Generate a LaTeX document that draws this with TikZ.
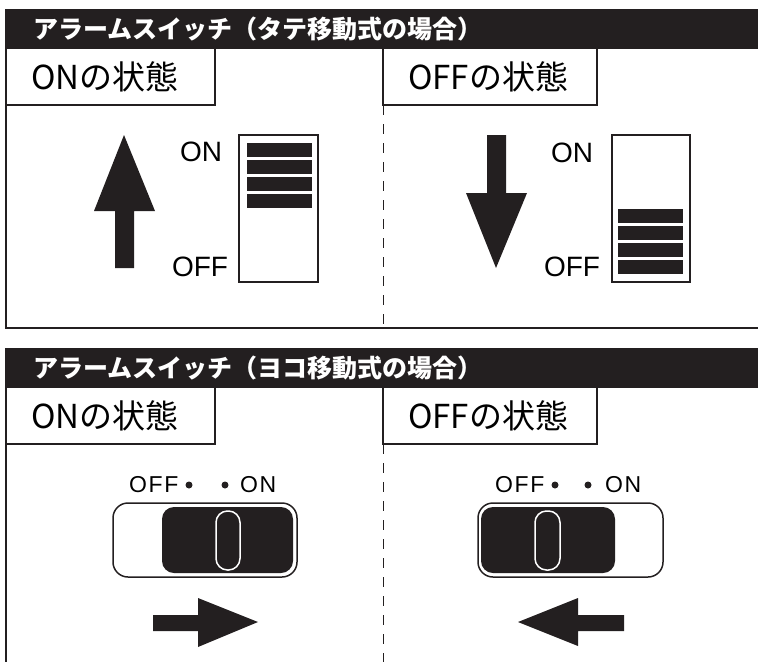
\documentclass[tikz,border=0pt]{standalone}
\usepackage{fontspec}
\setmainfont{Liberation Sans}
\newfontfamily\jp{Noto Sans CJK JP}
\definecolor{ink}{RGB}{35,31,32}

\begin{document}
\begin{tikzpicture}[x=1pt,y=-1pt,
  head/.style={anchor=west,text=white,inner sep=0,font=\jp\bfseries\fontsize{25}{25}\selectfont},
  state/.style={anchor=west,inner sep=0,font=\jp\fontsize{33}{33}\selectfont},
  onoff/.style={inner sep=0,font=\fontsize{28}{28}\selectfont},
  tag/.style={inner sep=0,font=\addfontfeature{LetterSpace=7}\fontsize{23}{23}\selectfont},
  frame/.style={ink,line width=2pt},
  sw/.style={ink,line width=1.5pt},
  cut/.style={ink,line width=1pt,dash pattern=on 10pt off 9pt}]
  \useasboundingbox (0,0) rectangle (758,662);
  % top panel
  \fill[ink] (5,9) rectangle (758,49);
  \node[head] (tate) at (33,29) {アラームスイッチ（タテ移動式の場合）};
  \draw[frame] (6,49) -- (6,328) -- (758,328);
  \draw[sw] (6,105) -| (215,49);
  \draw[sw] (383,49) |- (597,105) -- (597,49);
  \node[state] (tateon) at (31,77) {ONの状態};
  \node[state] (tateoff) at (408,77) {OFFの状態};
  \draw[cut] (383,105) -- (383,328);
  \fill[ink] (115,268) -- (115,211) -- (94,211) -- (124,135) -- (155,211) -- (134,211) -- (134,268) -- cycle;
  \node[onoff] (onA) at (201,152) {ON};
  \node[onoff] (offA) at (200,267) {OFF};
  \draw[sw] (239,135) rectangle (318,282);
  \foreach \y in {143,160,177,194} \fill[ink] (247,\y) rectangle (312,\y+14);
  \fill[ink] (487,135) -- (506,135) -- (506,193) -- (527,193) -- (496,268) -- (466,193) -- (487,193) -- cycle;
  \node[onoff] (onB) at (572,153) {ON};
  \node[onoff] (offB) at (572,267) {OFF};
  \draw[sw] (612,135) rectangle (690,282);
  \foreach \y in {209,226,243,260} \fill[ink] (618,\y) rectangle (683,\y+14);
  % bottom panel
  \fill[ink] (5,348) rectangle (758,388);
  \node[head] (yoko) at (33,368) {アラームスイッチ（ヨコ移動式の場合）};
  \draw[frame] (6,388) -- (6,662);
  \draw[sw] (6,444) -| (215,388);
  \draw[sw] (383,388) |- (597,444) -- (597,388);
  \node[state] (yokoon) at (31,416) {ONの状態};
  \node[state] (yokooff) at (408,416) {OFFの状態};
  \draw[cut] (383,444) -- (383,662);
  \node[tag,anchor=west] (offC) at (129,485) {OFF};
  \fill[ink] (189,485) circle (3.5) (225,485) circle (3.5);
  \node[tag,anchor=west] (onC) at (240,485) {ON};
  \draw[sw,rounded corners=15pt] (113,503) rectangle (297,577);
  \fill[ink,rounded corners=12pt] (162,507) rectangle (293,573);
  \draw[white,line width=1.5pt,rounded corners=11.5pt] (216,511) rectangle (240,570);
  \fill[ink] (153,615) -- (198,615) -- (198,598) -- (258,622) -- (198,647) -- (198,631) -- (153,631) -- cycle;
  \node[tag,anchor=west] (offD) at (495,485) {OFF};
  \fill[ink] (555,485) circle (3.5) (588,485) circle (3.5);
  \node[tag,anchor=west] (onD) at (605,485) {ON};
  \draw[sw,rounded corners=15pt] (478,503) rectangle (663,577);
  \fill[ink,rounded corners=12pt] (481,507) rectangle (615,573);
  \draw[white,line width=1.5pt,rounded corners=11.5pt] (535,511) rectangle (560,570);
  \fill[ink] (624,615) -- (578,615) -- (578,598) -- (518,622) -- (578,646) -- (578,631) -- (624,631) -- cycle;
\end{tikzpicture}
\end{document}
